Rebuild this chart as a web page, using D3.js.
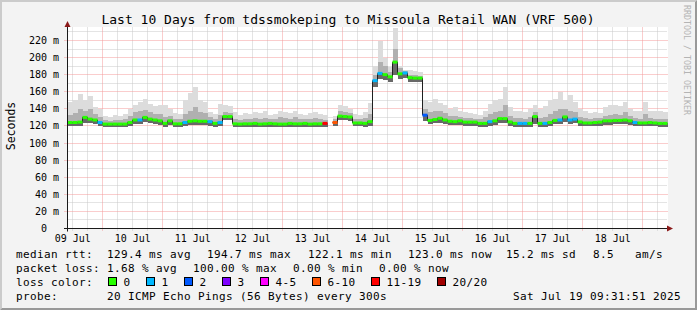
<!DOCTYPE html>
<html lang="en">
<head>
<meta charset="utf-8" />
<title>SmokePing: tdssmokeping to Missoula Retail WAN</title>
<script src="https://d3js.org/d3.v7.min.js"></script>
<style>
  body { margin: 0; background: #f3f3f3; }
  svg { display: block; font-family: "DejaVu Sans Mono", monospace; }
</style>
</head>
<body>
<script>
// window shown on the graph, one sample every 2 hours
var startTime = new Date(2025, 6, 9, 9, 54);
var endTime = new Date(2025, 6, 19, 9, 54);
var stepHours = 2;

// median rtt per sample (ms), null = no answer
var median = [
  124, 124, 124.5, 130, 128, 127, 124, 122.2, 122.2, 122.2,
  122.2, 122.2, 124, 127, 127, 130, 128, 127, 126, 123,
  126, 122.5, 122.5, 124, 125.5, 126, 125.5, 125.5, 125, 123,
  124, 131, 131, 122.5, 122.2, 122.5, 122.5, 123, 122.2, 122.5,
  123, 122.5, 122.2, 122.2, 123, 122.5, 122.5, 123, 122.2, 122.5,
  122.5, 123, null, 124, 131.5, 131, 130.5, 123.5, 123.5, 123,
  125, 173, 181.5, 180, 177.5, 194.7, 181, 182, 176.5, 176,
  176, 132.6, 126.5, 127.5, 129, 127, 125.5, 125, 126, 124.5,
  124.5, 124.5, 123, 123, 125, 126, 128.6, 128.6, 124.7, 123,
  123, 123, 123, 131, 123, 123, 124, 126.5, 127, 130.6,
  127, 128, 124.7, 123.5, 123.5, 124, 124.5, 126, 126, 126.5,
  126.5, 127, 126, 124, 123.5, 123.5, 124, 123.5, 123, 123
];

// lost pings out of 20 per sample
var lossCount = [
  0, 0, 0, 0, 0, 0, 1, 0, 0, 0,
  0, 0, 0, 0, 1, 0, 0, 0, 0, 0,
  0, 0, 0, 1, 0, 0, 0, 0, 1, 0,
  1, 0, 0, 0, 0, 0, 0, 0, 0, 0,
  0, 0, 0, 0, 0, 0, 0, 0, 0, 0,
  0, 12, 20, 7, 0, 0, 0, 0, 0, 0,
  0, 1, 1, 0, 0, 0, 0, 1, 0, 0,
  0, 2, 0, 0, 0, 0, 0, 0, 0, 0,
  0, 0, 0, 0, 1, 0, 0, 0, 0, 0,
  1, 1, 0, 0, 0, 1, 0, 0, 1, 0,
  1, 1, 0, 0, 0, 0, 0, 0, 0, 0,
  0, 0, 0, 1, 0, 0, 0, 0, 0, 0
];

// slowest ping per sample (top of the smoke)
var rttMax = [
  148, 150, 157, 150, 155, 142, 140, 132, 131, 133,
  132, 134, 140, 145, 148, 151, 146, 143, 144, 144,
  140, 135, 134, 150, 158, 166, 150, 148, 136, 134,
  146, 144, 143, 136, 133, 135, 134, 136, 135, 137,
  133, 134, 138, 136, 135, 137, 134, 133, 135, 136,
  134, 133, null, 132, 145, 143, 140, 134, 133, 136,
  147, 190, 219, 200, 189, 235, 190, 186, 185, 184,
  183, 150, 148, 151, 147, 145, 140, 142, 138, 136,
  135, 134, 133, 138, 146, 150, 152, 166, 142, 138,
  137, 136, 140, 144, 140, 143, 150, 152, 160, 150,
  156, 148, 140, 137, 135, 136, 135, 142, 144, 145,
  143, 148, 140, 138, 137, 148, 138, 137, 137, 136
];

// upper part of the dense smoke
var rttUpper = [
  133, 135, 140, 138, 140, 134, 130, 127, 126, 127,
  127, 128, 132, 136, 137, 139, 136, 134, 134, 131,
  132, 128, 128, 134, 138, 142, 136, 135, 130, 128,
  133, 136, 135, 128, 127, 128, 128, 129, 128, 129,
  128, 128, 130, 129, 128, 130, 128, 128, 128, 129,
  128, 127, null, 128, 138, 136, 135, 128, 128, 129,
  134, 180, 195, 190, 183, 210, 188, 184, 180, 180,
  179, 140, 136, 138, 137, 135, 132, 132, 131, 129,
  129, 128, 128, 130, 134, 136, 138, 144, 132, 129,
  129, 128, 130, 136, 129, 131, 134, 137, 140, 140,
  138, 136, 131, 129, 128, 129, 129, 132, 133, 134,
  133, 136, 132, 129, 128, 134, 129, 128, 128, 128
];

// fastest ping per sample (bottom of the smoke)
var rttMin = [
  120, 120, 120, 124, 123, 122, 120, 118.5, 118.5, 118.5,
  118.5, 118.5, 120, 122, 122, 125, 123, 122, 121, 119,
  121, 118.5, 118.5, 120, 121, 121, 121, 121, 120.5, 119,
  120, 127, 127, 118.5, 118.5, 118.5, 118.5, 119, 118.5, 118.5,
  119, 118.5, 118.5, 118.5, 119, 118.5, 118.5, 119, 118.5, 118.5,
  118.5, 119, null, 120, 127, 127, 126, 119.5, 119.5, 119,
  120.5, 166, 175, 174, 172, 180, 175, 176, 171, 171,
  171, 126, 122, 123, 124, 122.5, 121, 121, 121.5, 120.5,
  120.5, 120.5, 119, 119, 120.5, 121.5, 124, 124, 120.5, 119,
  119, 119, 119, 122, 119, 119, 120, 122, 122, 125,
  122, 123, 120.5, 119.5, 119.5, 120, 120.5, 121.5, 121.5, 122,
  122, 122.5, 121.5, 120, 119.5, 119.5, 120, 119.5, 119, 119
];

var dayLabels = ["09 Jul", "10 Jul", "11 Jul", "12 Jul", "13 Jul", "14 Jul", "15 Jul", "16 Jul", "17 Jul", "18 Jul"];
var yTicks = [0, 20, 40, 60, 80, 100, 120, 140, 160, 180, 200, 220];
var lossNames = ["0", "1", "2", "3", "4-5", "6-10", "11-19", "20/20"];
var lossColors = ["#26ff00", "#00b8ff", "#0059ff", "#7e00ff", "#ff00ff", "#ff5500", "#ff0000", "#a00000"];
var rttStats = ["129.4 ms avg", "194.7 ms max", "122.1 ms min", "123.0 ms now", "15.2 ms sd", "8.5", "am/s"];
var lossStats = ["1.68 % avg", "100.00 % max", "0.00 % min", "0.00 % now"];

var W = 697, H = 310;
var plotLeft = 67.5, plotRight = 667.5, plotTop = 27.5, plotBottom = 228.5;

var x = d3.scaleTime().domain([startTime, endTime]).range([plotLeft, plotRight]);
var y = d3.scaleLinear().domain([0, 235.2]).range([plotBottom, plotTop]);

function lossIndex(n) {
  if (n <= 3) return n;
  if (n <= 5) return 4;
  if (n <= 10) return 5;
  if (n <= 19) return 6;
  return 7;
}

var samples = median.map(function (m, i) {
  return {
    t0: d3.timeHour.offset(startTime, stepHours * i),
    t1: d3.timeHour.offset(startTime, stepHours * (i + 1)),
    median: m, loss: lossCount[i], max: rttMax[i], upper: rttUpper[i], min: rttMin[i]
  };
});

var svg = d3.select("body").append("svg").attr("width", W).attr("height", H);

// frame, rrdtool style shading
svg.append("rect").attr("width", W).attr("height", H).attr("fill", "#f3f3f3");
svg.append("path").attr("d", "M0,0H697L695,2H2V308L0,310Z").attr("fill", "#cbcbcb");
svg.append("path").attr("d", "M697,0V310H0L2,308H695V2Z").attr("fill", "#999999");

svg.append("rect")
  .attr("x", 67).attr("y", 27).attr("width", 601).attr("height", 202)
  .attr("fill", "#ffffff");

var crisp = function (v) { return Math.round(v - 0.5) + 0.5; };

// grid
var grid = svg.append("g").attr("stroke-width", 1).attr("stroke-dasharray", "1,1").attr("fill", "none");
var minorY = d3.range(10, 236, 20);
grid.selectAll(".hmin").data(minorY).enter().append("line")
  .attr("x1", plotLeft).attr("x2", plotRight)
  .attr("y1", function (d) { return crisp(y(d)); }).attr("y2", function (d) { return crisp(y(d)); })
  .attr("stroke", "#c8c8c8");
var sixHours = d3.timeHour.every(6).range(startTime, endTime).filter(function (d) { return d.getHours() !== 0; });
grid.selectAll(".vmin").data(sixHours).enter().append("line")
  .attr("x1", function (d) { return crisp(x(d)); }).attr("x2", function (d) { return crisp(x(d)); })
  .attr("y1", plotTop).attr("y2", plotBottom + 2)
  .attr("stroke", "#c8c8c8");
grid.selectAll(".hmaj").data(yTicks.slice(1)).enter().append("line")
  .attr("x1", plotLeft - 3).attr("x2", plotRight)
  .attr("y1", function (d) { return crisp(y(d)); }).attr("y2", function (d) { return crisp(y(d)); })
  .attr("stroke", "#f59a9a");
var midnights = d3.timeDay.range(startTime, endTime);
grid.selectAll(".vmaj").data(midnights).enter().append("line")
  .attr("x1", function (d) { return crisp(x(d)); }).attr("x2", function (d) { return crisp(x(d)); })
  .attr("y1", plotTop).attr("y2", plotBottom + 3)
  .attr("stroke", "#f59a9a");

// smoke
var plot = svg.append("g").attr("shape-rendering", "crispEdges");
var bands = [["min", "max", "#dcdcdc"], ["min", "upper", "#b0b0b0"], ["min", "median", "#686868"]];
bands.forEach(function (b) {
  plot.selectAll(null)
    .data(samples.filter(function (d) { return d[b[0]] != null && d[b[1]] != null; }))
    .enter().append("rect")
    .attr("x", function (d) { return x(d.t0); })
    .attr("width", function (d) { return x(d.t1) - x(d.t0); })
    .attr("y", function (d) { return y(d[b[1]]); })
    .attr("height", function (d) { return y(d[b[0]]) - y(d[b[1]]); })
    .attr("fill", b[2]);
});

// median line, dark step line then loss colored bars
var medianLine = d3.line()
  .defined(function (d) { return d.median != null; })
  .x(function (d) { return x(d.t0); })
  .y(function (d) { return y(d.median); })
  .curve(d3.curveStepAfter);
svg.append("path").datum(samples).attr("d", medianLine)
  .attr("fill", "none").attr("stroke", "#202020").attr("stroke-width", 1);

svg.append("g").selectAll("line")
  .data(samples.filter(function (d) { return d.median != null; }))
  .enter().append("line")
  .attr("x1", function (d) { return x(d.t0); })
  .attr("x2", function (d) { return x(d.t1); })
  .attr("y1", function (d) { return y(d.median); })
  .attr("y2", function (d) { return y(d.median); })
  .attr("stroke", function (d) { return lossColors[lossIndex(d.loss)]; })
  .attr("stroke-width", 3);

// axes
var axis = svg.append("g").attr("stroke", "#1a1a1a").attr("stroke-width", 1);
axis.append("line").attr("x1", 64).attr("x2", 670).attr("y1", plotBottom).attr("y2", plotBottom);
axis.append("line").attr("x1", plotLeft).attr("x2", plotLeft).attr("y1", plotBottom + 3).attr("y2", 24);
svg.append("path").attr("d", "M667,225.5L673,228.5L667,231.5Z").attr("fill", "#8b1a1a");
svg.append("path").attr("d", "M64.5,27L67.5,21L70.5,27Z").attr("fill", "#8b1a1a");

// tick labels
svg.append("g").attr("font-size", 10).attr("text-anchor", "end").attr("fill", "#000")
  .selectAll("text").data(yTicks).enter().append("text")
  .attr("x", function (d) { return d === 0 ? 47 : 59; })
  .attr("y", function (d) { return y(d) + 3.5; })
  .text(function (d) { return d === 0 ? "0" : d + " m"; });

var noons = midnights.map(function (d) { return d3.timeHour.offset(d, -12); });
svg.append("g").attr("font-size", 10).attr("text-anchor", "middle")
  .selectAll("text").data(dayLabels).enter().append("text")
  .attr("x", function (d, i) { return x(noons[i]); }).attr("y", 241.5)
  .text(function (d) { return d; });

// title, y label, watermark
svg.append("text").attr("x", 348).attr("y", 24).attr("font-size", 13).attr("text-anchor", "middle")
  .text("Last 10 Days from tdssmokeping to Missoula Retail WAN (VRF 500)");
svg.append("text").attr("transform", "translate(15,126) rotate(-90)").attr("font-size", 11.5)
  .attr("text-anchor", "middle").text("Seconds");
svg.append("text").attr("transform", "translate(683.5,5) rotate(90)").attr("font-size", 8.3)
  .attr("fill", "#b4b4b4").text("RRDTOOL / TOBI OETIKER");

// legend
var legend = svg.append("g").attr("font-size", 11).attr("letter-spacing", 0.38);
legend.append("text").attr("x", 16).attr("y", 258).text("median rtt:");
var rttX = [107, 207, 308, 408, 506, 593, 635];
rttStats.forEach(function (s, i) { legend.append("text").attr("x", rttX[i]).attr("y", 258).text(s); });
legend.append("text").attr("x", 16).attr("y", 272).text("packet loss:");
var lossX = [107, 193, 293, 379];
lossStats.forEach(function (s, i) { legend.append("text").attr("x", lossX[i]).attr("y", 272).text(s); });
legend.append("text").attr("x", 16).attr("y", 286).text("loss color:");
var swatchX = 108.5;
lossNames.forEach(function (name, i) {
  legend.append("rect").attr("x", swatchX).attr("y", 277.5).attr("width", 8).attr("height", 8)
    .attr("fill", lossColors[i]).attr("stroke", "#000").attr("stroke-width", 1);
  legend.append("text").attr("x", swatchX + 15).attr("y", 286).text(name);
  swatchX += 15 + name.length * 7 + 16;
});
legend.append("text").attr("x", 16).attr("y", 300).text("probe:");
legend.append("text").attr("x", 107).attr("y", 300).text("20 ICMP Echo Pings (56 Bytes) every 300s");
legend.append("text").attr("x", 513).attr("y", 300).text("Sat Jul 19 09:31:51 2025");
</script>
</body>
</html>
